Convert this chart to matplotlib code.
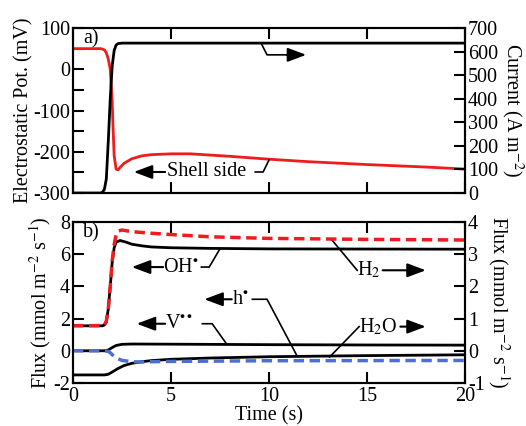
import matplotlib.pyplot as plt
import numpy as np

plt.rcParams['font.family'] = ['Liberation Serif', 'DejaVu Serif']
plt.rcParams['mathtext.fontset'] = 'stix'
plt.rcParams['axes.unicode_minus'] = False
plt.rcParams['font.size'] = 14

# (a) electrostatic potential, shell side (mV, left axis)
t_pot = [0, 1.4, 1.5, 1.6, 1.7, 1.8, 1.9, 2.0, 2.05, 2.1, 2.2, 2.3, 2.4, 2.6, 3.0, 3.5, 4, 5, 6, 8, 10, 12, 15, 18, 20]
pot = [50, 50, 49, 47, 40, 25, 0, -80, -150, -210, -242, -244, -238, -228, -217, -210, -207, -205, -205, -211, -218, -224, -231, -237, -242]

# (a) current (A m-2, right axis)
t_cur = [0, 1.4, 1.5, 1.6, 1.7, 1.8, 1.9, 2.0, 2.1, 2.2, 2.3, 2.5, 20]
cur = [0, 0, 3, 15, 60, 220, 400, 540, 605, 628, 634, 636, 636]

# (b) fluxes, left axis (mmol m-2 s-1)
t_oh = [0, 1.5, 1.6, 1.7, 1.8, 1.9, 2.0, 2.1, 2.2, 2.4, 2.7, 3.0, 3.5, 4, 5, 7, 10, 20]
oh = [1.55, 1.55, 1.6, 1.8, 2.6, 4.0, 5.5, 6.4, 6.75, 6.85, 6.75, 6.62, 6.52, 6.45, 6.4, 6.36, 6.33, 6.31]

t_vo = [0, 1.6, 1.8, 2.0, 2.2, 2.5, 3.0, 5, 10, 15, 20]
vo = [0, 0, 0.05, 0.2, 0.33, 0.4, 0.42, 0.41, 0.38, 0.36, 0.35]

t_h = [0, 1.6, 1.8, 2.0, 2.3, 2.6, 3.0, 3.5, 4, 5, 7, 10, 15, 20]
h = [-1.5, -1.5, -1.46, -1.32, -1.1, -0.92, -0.78, -0.68, -0.61, -0.53, -0.45, -0.37, -0.3, -0.25]

# (b) fluxes, right axis (mmol m-2 s-1)
t_h2 = [0, 1.5, 1.6, 1.7, 1.8, 1.9, 2.0, 2.1, 2.2, 2.3, 2.5, 3.0, 4, 5, 7, 10, 15, 20]
h2 = [0.78, 0.78, 0.8, 0.92, 1.3, 2.0, 2.8, 3.3, 3.6, 3.72, 3.75, 3.7, 3.65, 3.61, 3.54, 3.49, 3.46, 3.44]

t_h2o = [0, 1.6, 1.8, 1.9, 2.0, 2.2, 2.5, 3.0, 3.5, 4, 5, 10, 20]
h2o = [0, 0, -0.02, -0.06, -0.12, -0.22, -0.3, -0.34, -0.35, -0.34, -0.33, -0.31, -0.3]


def style_axis(ax, right=False):
    for s in ax.spines.values():
        s.set_linewidth(1.5)
    ax.tick_params(which='both', direction='in', width=1.5, length=8,
                   top=True, left=not right, right=right,
                   labelleft=not right, labelright=right, labelsize=14.5, pad=2)


fig = plt.figure(figsize=(5.26, 4.26), dpi=100)
ax1 = fig.add_axes([0.1388, 0.5469, 0.7452, 0.3873])
ax1r = ax1.twinx()
ax3 = fig.add_axes([0.1388, 0.1010, 0.7452, 0.3779])
ax3r = ax3.twinx()

arrow = dict(arrowstyle='-|>,head_length=0.8,head_width=0.3', color='black',
             lw=1.5, shrinkA=0, shrinkB=0)

# panel a
ax1.plot(t_pot, pot, color='#ee1c1c', lw=2)
ax1r.plot(t_cur, cur, color='black', lw=2)
ax1.set_xlim(0, 20)
ax1.set_ylim(-300, 100)
ax1r.set_ylim(0, 700)
ax1.set_xticks([0, 5, 10, 15, 20])
ax1.set_xticklabels([])
ax1.set_yticks(np.arange(-300, 101, 100))
ax1.set_yticks(np.arange(-250, 100, 100), minor=True)
ax1r.set_yticks(np.arange(0, 701, 100))
style_axis(ax1)
style_axis(ax1r, right=True)
ax1.set_ylabel('Electrostatic Pot. (mV)', fontsize=14.5, labelpad=0)
ax1r.set_ylabel('Current (A m$^{-2}$)', fontsize=14.5, rotation=270, va='bottom', labelpad=1)
ax1.text(0.5, 74, 'a)', fontsize=14.5, va='center')

ax1.annotate('', xy=(3.1, -249), xytext=(4.7, -249), arrowprops=arrow)
ax1.text(4.8, -249, 'Shell side', fontsize=14.5, va='center')
ax1.plot([9.3, 9.7, 10.0], [-249, -249, -220], color='black', lw=1.2)
ax1.plot([9.6, 9.9, 11.0], [63, 35, 35], color='black', lw=1.2)
ax1.annotate('', xy=(11.9, 35), xytext=(10.9, 35), arrowprops=arrow)

# panel b
ax3.plot(t_oh, oh, color='black', lw=2)
ax3.plot(t_vo, vo, color='black', lw=2)
ax3.plot(t_h, h, color='black', lw=2)
ax3r.plot(t_h2, h2, color='#ee1c1c', lw=2.5, ls=(0, (3, 1.6)))
ax3r.plot(t_h2o, h2o, color='#4f6fd0', lw=2.5, ls=(0, (3, 1.6)))
ax3.set_xlim(0, 20)
ax3.set_ylim(-2, 8)
ax3r.set_ylim(-1, 4)
ax3.set_xticks([0, 5, 10, 15, 20])
ax3.set_yticks(np.arange(-2, 9, 2))
ax3r.set_yticks(np.arange(-1, 5, 1))
style_axis(ax3)
style_axis(ax3r, right=True)
ax3.tick_params(axis='x', pad=3)
ax3.set_xlabel('Time (s)', fontsize=14.5, labelpad=0)
ax3.set_ylabel('Flux (mmol m$^{-2}$ s$^{-1}$)', fontsize=14.5, labelpad=0)
ax3r.set_ylabel('Flux (mmol m$^{-2}$ s$^{-1}$)', fontsize=14.5, rotation=270, va='bottom', labelpad=1)
ax3.text(0.5, 7.3, 'b)', fontsize=14.5, va='center')

# OH
ax3.annotate('', xy=(3.0, 5.2), xytext=(4.6, 5.2), arrowprops=arrow)
ax3.text(4.6, 5.2, 'OH$^{\\bullet}$', fontsize=14.5, va='center')
ax3.plot([6.55, 6.95, 7.5], [5.2, 5.2, 6.34], color='black', lw=1.2)
# h
ax3.annotate('', xy=(6.7, 3.2), xytext=(8.1, 3.2), arrowprops=arrow)
ax3.text(8.1, 3.2, 'h$^{\\bullet}$', fontsize=14.5, va='center')
ax3.plot([9.15, 9.9, 11.45], [3.2, 3.2, -0.36], color='black', lw=1.2)
# V
ax3.annotate('', xy=(3.25, 1.68), xytext=(4.7, 1.68), arrowprops=arrow)
ax3.text(4.7, 1.68, 'V$^{\\bullet\\bullet}$', fontsize=14.5, va='center')
ax3.plot([6.6, 7.1, 7.85], [1.68, 1.68, 0.4], color='black', lw=1.2)
# H2
ax3.plot([13.2, 14.5], [6.9, 5.0], color='black', lw=1.2)
ax3.text(14.5, 5.0, 'H$_2$', fontsize=14.5, va='center')
ax3.annotate('', xy=(18.0, 5.0), xytext=(15.8, 5.0), arrowprops=arrow)
# H2O
ax3.plot([13.1, 14.6], [-0.38, 1.5], color='black', lw=1.2)
ax3.text(14.6, 1.5, 'H$_2$O', fontsize=14.5, va='center')
ax3.annotate('', xy=(18.0, 1.5), xytext=(16.7, 1.5), arrowprops=arrow)

fig.savefig('out.png', dpi=100)
